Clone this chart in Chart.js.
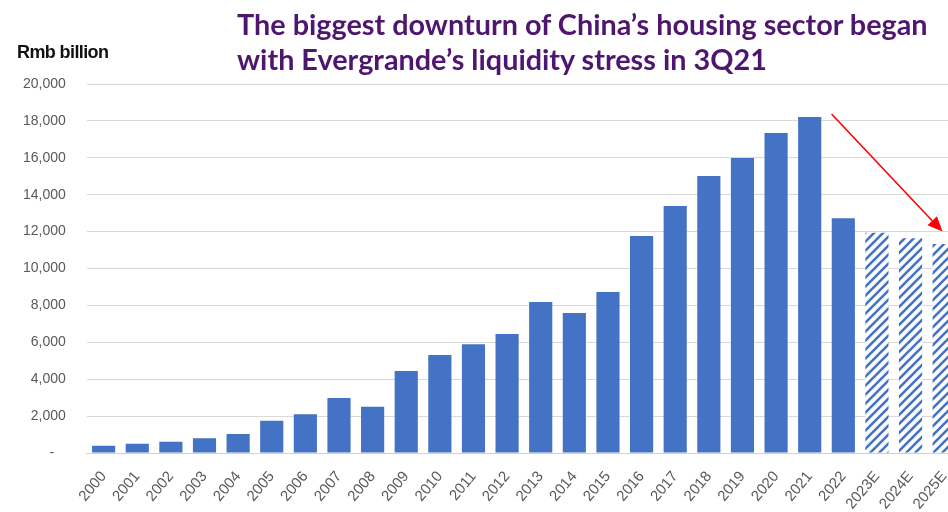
<!DOCTYPE html>
<html>
<head>
<meta charset="utf-8">
<script src="https://cdn.jsdelivr.net/npm/chart.js@4"></script>
<style>
  html, body { margin: 0; padding: 0; background: #fff; overflow: hidden; width: 948px; height: 512px; }
  #wrap { position: absolute; left: 0; top: 0; width: 961px; height: 512px; }
  #title { position: absolute; left: 237px; top: 7px; font-family: Lato, sans-serif; font-weight: 700; font-size: 28.8px; line-height: 35px; color: #4f1670; white-space: nowrap; }
  #unit { position: absolute; left: 17px; top: 42px; font-family: "Liberation Sans Narrow", "Liberation Sans", sans-serif; font-weight: 700; font-size: 18px; color: #111; letter-spacing: -0.6px; }
</style>
</head>
<body>
<div id="wrap"><canvas id="myChart" width="961" height="512"></canvas></div>
<div id="unit">Rmb billion</div>
<div id="title">The biggest downturn of China’s housing sector began<br>with Evergrande’s liquidity stress in 3Q21</div>
<script>
// property sales, Rmb billion
var years = ["2000", "2001", "2002", "2003", "2004", "2005", "2006", "2007", "2008", "2009",
	"2010", "2011", "2012", "2013", "2014", "2015", "2016", "2017", "2018", "2019",
	"2020", "2021", "2022", "2023E", "2024E", "2025E"];
var sales = [390, 500, 610, 800, 1030, 1750, 2100, 2980, 2510, 4440,
	5310, 5900, 6450, 8180, 7590, 8730, 11760, 13390, 15010, 15990,
	17340, 18210, 12720, 11940, 11640, 11330];
var estimated = [false, false, false, false, false, false, false, false, false, false,
	false, false, false, false, false, false, false, false, false, false,
	false, false, false, true, true, true];
var yTicks = [0, 2000, 4000, 6000, 8000, 10000, 12000, 14000, 16000, 18000, 20000];
// arrow from just after 2021 down to 2025E (category index, value)
var arrowFrom = [21.65, 18370];
var arrowTo = [24.95, 12000];

var blue = '#4472C4';

function hatch() {
	var c = document.createElement('canvas');
	c.width = 9; c.height = 9;
	var g = c.getContext('2d');
	g.fillStyle = '#fff';
	g.fillRect(0, 0, 9, 9);
	g.strokeStyle = blue;
	g.lineWidth = 2.6;
	g.beginPath();
	g.moveTo(-1, 10); g.lineTo(10, -1);
	g.moveTo(-1, 1); g.lineTo(1, -1);
	g.moveTo(8, 10); g.lineTo(10, 8);
	g.stroke();
	return g.createPattern(c, 'repeat');
}

var pat = hatch();
var colors = estimated.map(function (e) { return e ? pat : blue; });

var arrowPlugin = {
	id: 'arrow',
	afterDatasetsDraw: function (chart) {
		var ctx = chart.ctx;
		var x = chart.scales.x, y = chart.scales.y;
		var x1 = x.getPixelForValue(arrowFrom[0]), y1 = y.getPixelForValue(arrowFrom[1]);
		var x2 = x.getPixelForValue(arrowTo[0]), y2 = y.getPixelForValue(arrowTo[1]);
		var a = Math.atan2(y2 - y1, x2 - x1);
		var len = 15, w = 6.5;
		ctx.save();
		ctx.strokeStyle = '#ff0000';
		ctx.fillStyle = '#ff0000';
		ctx.lineWidth = 1.6;
		ctx.beginPath();
		ctx.moveTo(x1, y1);
		ctx.lineTo(x2 - Math.cos(a) * len, y2 - Math.sin(a) * len);
		ctx.stroke();
		ctx.beginPath();
		ctx.moveTo(x2, y2);
		ctx.lineTo(x2 - Math.cos(a) * len - Math.sin(a) * w, y2 - Math.sin(a) * len + Math.cos(a) * w);
		ctx.lineTo(x2 - Math.cos(a) * len + Math.sin(a) * w, y2 - Math.sin(a) * len - Math.cos(a) * w);
		ctx.closePath();
		ctx.fill();
		ctx.restore();
	}
};

var ctx = document.getElementById('myChart').getContext('2d');
new Chart(ctx, {
	type: 'bar',
	data: {
		labels: years,
		datasets: [{
			label: 'Sales',
			data: sales,
			backgroundColor: colors,
			borderWidth: 0,
			barPercentage: 0.82,
			categoryPercentage: 0.84
		}]
	},
	options: {
		responsive: false,
		animation: false,
		layout: { padding: { top: 84, left: 2, right: 0, bottom: 0 } },
		plugins: { legend: { display: false }, tooltip: { enabled: false } },
		scales: {
			x: {
				grid: { display: false, drawTicks: false },
				border: { display: true, color: '#d0d0d0', width: 1 },
				ticks: {
					color: '#595959',
					font: { family: 'Liberation Sans', size: 15 },
					minRotation: 50, maxRotation: 50,
					padding: 15,
					autoSkip: false
				},
				afterFit: function (s) { s.paddingLeft = 0; s.paddingRight = 0; s.height = 59; }
			},
			y: {
				min: 0, max: 20000,
				afterBuildTicks: function (s) { s.ticks = yTicks.map(function (v) { return { value: v }; }); },
				grid: { color: '#d9d9d9', drawTicks: false },
				border: { display: false },
				ticks: {
					color: '#595959',
					font: { family: 'Liberation Sans', size: 14 },
					padding: 21,
					callback: function (v) { return v === 0 ? '-   ' : v.toLocaleString('en-US'); }
				}
			}
		}
	},
	plugins: [arrowPlugin]
});
</script>
</body>
</html>
